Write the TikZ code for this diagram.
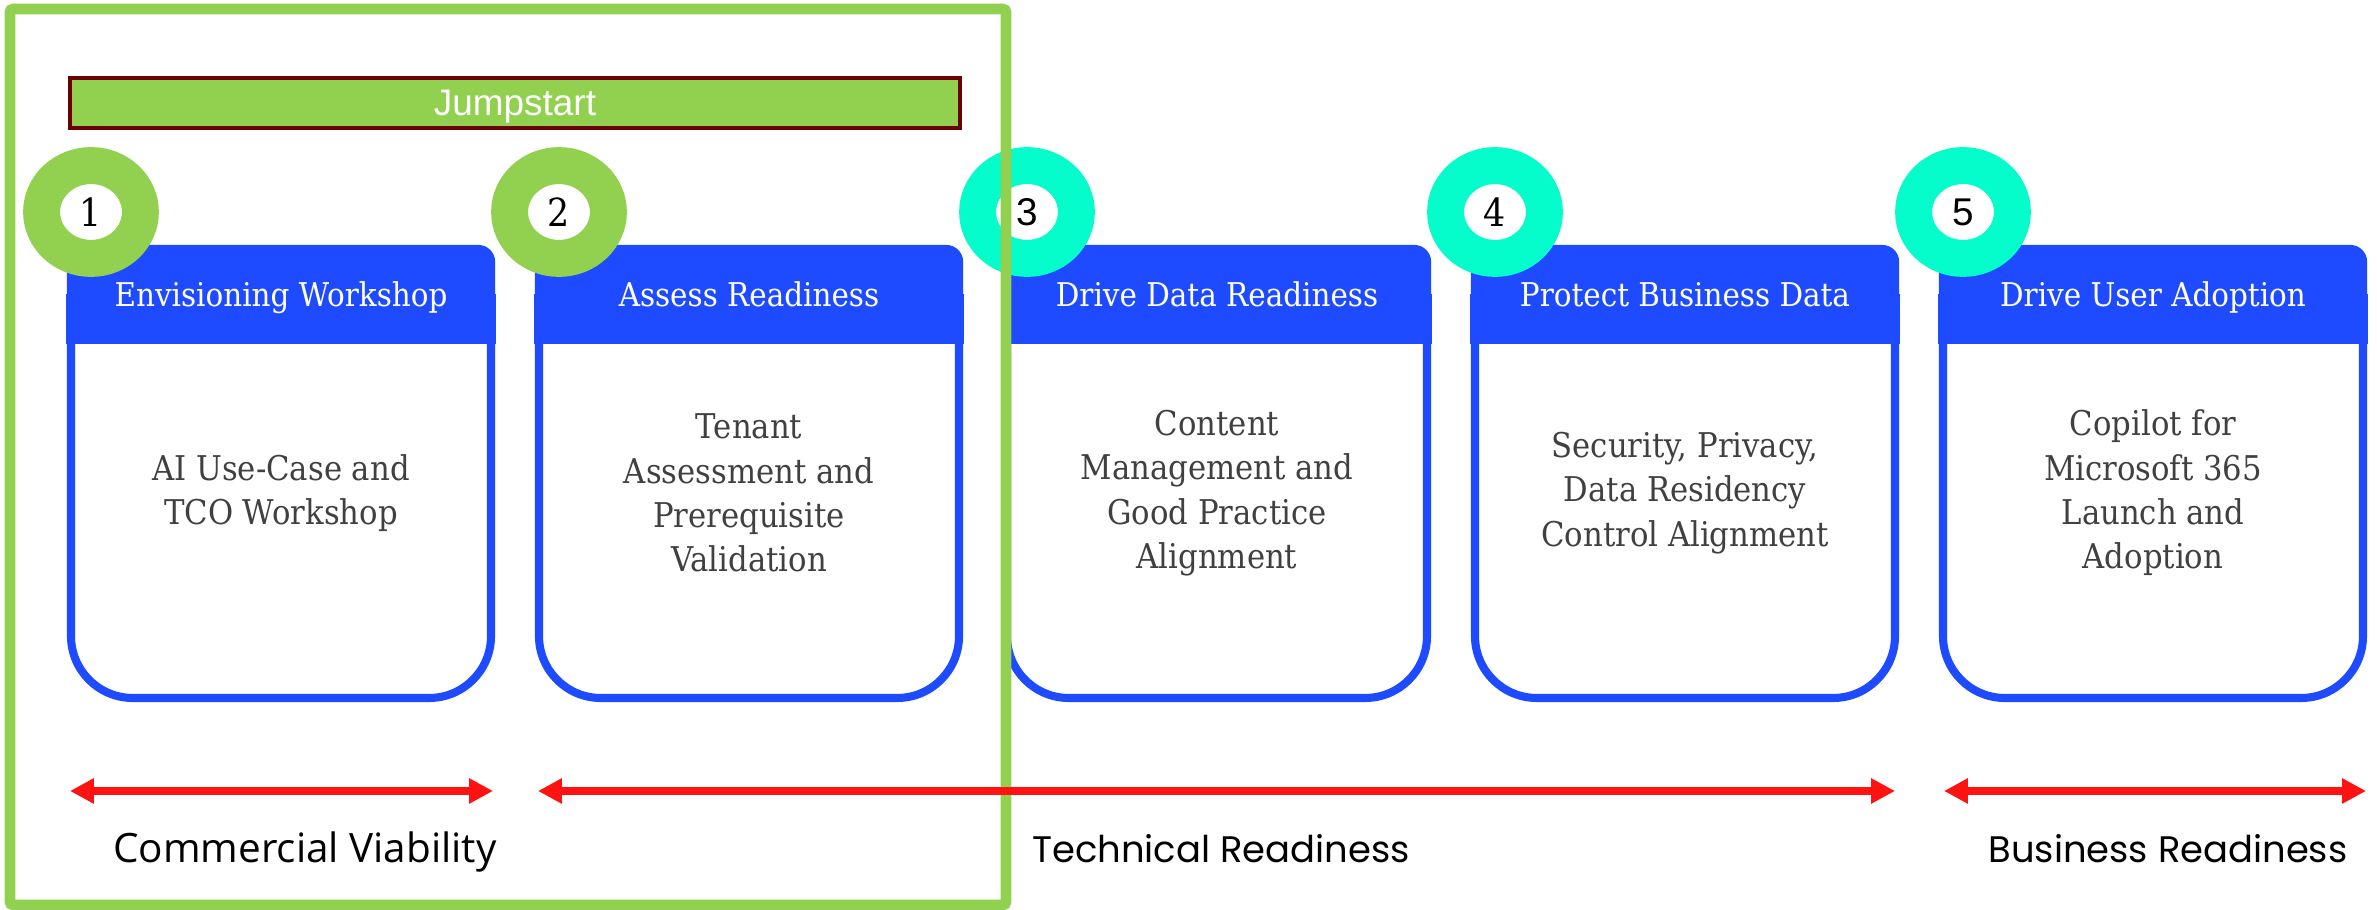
\documentclass[tikz,border=0pt]{standalone}
\usepackage{fontspec}
\setmainfont{DejaVu Serif}[FakeStretch=0.9]
\newfontfamily\arialfont{Liberation Sans}
\newfontfamily\opensansfont{Open Sans}
\newfontfamily\poppinsfont{Poppins}
\usetikzlibrary{arrows.meta,shapes.geometric}
\definecolor{jsgreen}{HTML}{92D050}
\definecolor{jsred}{HTML}{6B0000}
\definecolor{stepcyan}{HTML}{05FDCB}
\definecolor{stepblue}{HTML}{1E4BFF}
\definecolor{bodygray}{HTML}{404040}
\definecolor{arrowred}{HTML}{FF1212}
\tikzset{
  headbox/.style={fill=stepblue, rounded corners=4.8pt, minimum width=121.8pt,
    minimum height=27.9pt, inner sep=0pt},
  headtext/.style={text=white, anchor=base, font=\fontsize{9.3}{10}\selectfont},
  bodytext/.style={text=bodygray, align=center, font=\fontsize{9.7}{12.6}\selectfont},
  numring/.style={ellipse, draw=#1, fill=white, line width=10.5pt, minimum width=28.1pt,
    minimum height=26.4pt, inner sep=0pt, font=\fontsize{11}{12}\selectfont},
  spanarrow/.style={arrowred, line width=2.3pt,
    {Triangle[length=6.8pt,width=6.8pt]}-{Triangle[length=6.8pt,width=6.8pt]}},
  spanlabel/.style={anchor=base, font=\fontsize{10.5}{12}\selectfont}
}
\begin{document}
\begin{tikzpicture}[x=0.01cm,y=-0.01cm]
\useasboundingbox (0,0) rectangle (2377,910);
\foreach \i/\num/\col/\head/\txt in {
  1/1/jsgreen/Envisioning Workshop/{AI Use-Case and\\TCO Workshop},
  2/2/jsgreen/Assess Readiness/{Tenant\\Assessment and\\Prerequisite\\Validation},
  3/{\arialfont 3}/stepcyan/Drive Data Readiness/{Content\\Management and\\Good Practice\\Alignment},
  4/4/stepcyan/Protect Business Data/{Security, Privacy,\\Data Residency\\Control Alignment},
  5/{\arialfont 5}/stepcyan/Drive User Adoption/{Copilot for\\Microsoft 365\\Launch and\\Adoption}}{
\pgfmathsetmacro\l{67+468*(\i-1)}
\draw[stepblue, line width=2.3pt, rounded corners=17.6pt] (\l+4,343)--(\l+4,698)--(\l+424,698)--(\l+424,343);
\node[headbox] (h\i) at (\l+214,294) {};
\fill[stepblue] (h\i.west) rectangle (h\i.south east);
\node[headtext] (ht\i) at (\l+214,307) {\head};
\node[bodytext] (b\i) at (\l+214,493) {\txt};
\node[numring=\col] (n\i) at (\l+24,212) {\num};
}

\draw[jsgreen, line width=3.1pt, rounded corners=1pt] (10,9) rectangle (1006,905);
\node[draw=jsred, line width=1pt, fill=jsgreen, text=white, minimum width=253.2pt, minimum height=14.2pt,
  inner sep=0pt, text depth=0pt, font=\arialfont\fontsize{10.5}{12}\selectfont] (jump) at (515,103) {Jumpstart};

\coordinate (cv-l) at (70,791);
\coordinate (cv-r) at (493,791);
\coordinate (tr-l) at (538,791);
\coordinate (tr-r) at (1895,791);
\coordinate (br-l) at (1944,791);
\coordinate (br-r) at (2366,791);
\draw[spanarrow] (cv-l)--(cv-r);
\draw[spanarrow] (tr-l)--(tr-r);
\draw[spanarrow] (br-l)--(br-r);

\node[spanlabel, font=\opensansfont\fontsize{11.5}{12}\selectfont] (cv) at (305,863) {Commercial Viability};
\node[spanlabel, font=\poppinsfont\fontsize{10.5}{12}\selectfont] (tr) at (1221,863) {Technical Readiness};
\node[spanlabel, font=\poppinsfont\fontsize{10.5}{12}\selectfont] (br) at (2168,863) {Business Readiness};
\end{tikzpicture}
\end{document}
